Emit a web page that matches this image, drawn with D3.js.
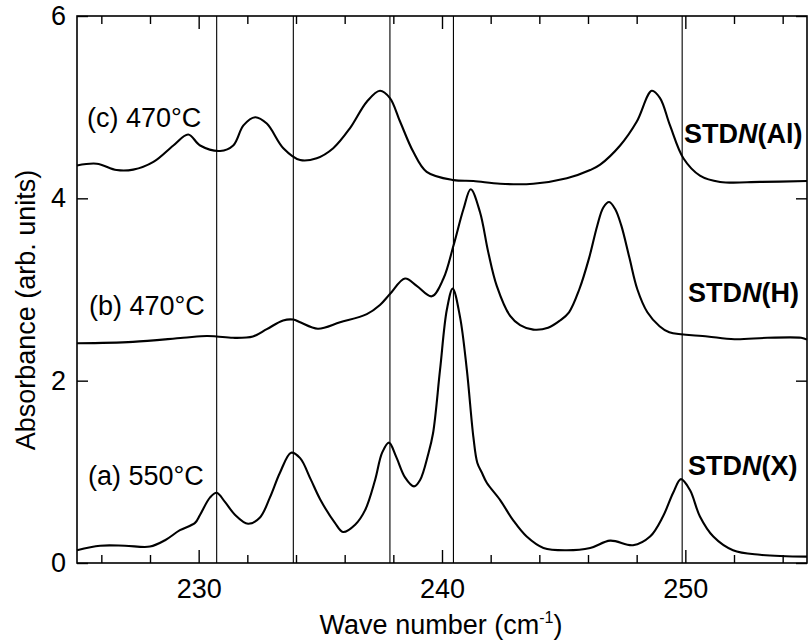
<!DOCTYPE html>
<html>
<head>
<meta charset="utf-8">
<script src="https://cdn.jsdelivr.net/npm/d3@7"></script>
<style>
  html, body { margin: 0; padding: 0; background: #fff; }
  svg { display: block; font-family: "Liberation Sans", Arial, Helvetica, sans-serif; }
</style>
</head>
<body>
<svg id="chart" width="808" height="642"></svg>
<script>
// ---- data ----
const xDomain = [225, 255];
const yDomain = [0, 6];
const xMajorTicks = [230, 240, 250];
const xMinorTicks = [226, 228, 232, 234, 236, 238, 242, 244, 246, 248, 252, 254];
const yMajorTicks = [0, 2, 4, 6];
const refLines = [230.74, 233.89, 237.86, 240.47, 249.87];

// (a) 550°C  STDN(X)
const seriesA = [
  [225.0, 0.14], [225.95, 0.19], [226.97, 0.19], [228.0, 0.18], [228.62, 0.25],
  [229.23, 0.36], [229.85, 0.44], [230.06, 0.53], [230.47, 0.72], [230.74, 0.77],
  [231.08, 0.67], [231.49, 0.53], [232.03, 0.43], [232.52, 0.50], [232.93, 0.72],
  [233.34, 0.99], [233.8, 1.21], [234.17, 1.15], [234.6, 0.92], [234.99, 0.70], [235.6, 0.44],
  [235.93, 0.34], [236.43, 0.42], [236.84, 0.58], [237.25, 0.91], [237.54, 1.21],
  [237.82, 1.32], [238.11, 1.17], [238.48, 0.94], [238.85, 0.84], [239.1, 0.91],
  [239.43, 1.19], [239.63, 1.42], [239.92, 2.12], [240.2, 2.78], [240.44, 3.01],
  [240.74, 2.70], [241.02, 2.12], [241.29, 1.38], [241.45, 1.10], [241.64, 0.99],
  [241.84, 0.88], [242.39, 0.69], [242.92, 0.47], [243.48, 0.29], [244.17, 0.165], [245.13, 0.14],
  [246.09, 0.165], [246.91, 0.245], [247.85, 0.195], [248.55, 0.29], [249.08, 0.51],
  [249.5, 0.77], [249.82, 0.92], [250.19, 0.80], [250.6, 0.51], [251.15, 0.29],
  [251.96, 0.14], [253.07, 0.09], [255.0, 0.07]
];

// (b) 470°C  STDN(H)
const seriesB = [
  [225.0, 2.41], [227.3, 2.425], [229.36, 2.47], [230.33, 2.49], [230.74, 2.485],
  [231.41, 2.47], [232.23, 2.485], [232.8, 2.565], [233.47, 2.66], [233.89, 2.67],
  [234.17, 2.64], [234.9, 2.57], [235.81, 2.64], [236.91, 2.73], [237.45, 2.83],
  [237.86, 2.95], [238.48, 3.12], [238.96, 3.04], [239.58, 2.925], [240.06, 3.12],
  [240.47, 3.48], [240.88, 3.88], [241.18, 4.10], [241.56, 3.85], [241.9, 3.41],
  [242.25, 3.04], [242.8, 2.71], [243.21, 2.61], [243.75, 2.56], [244.36, 2.58],
  [244.85, 2.66], [245.22, 2.75], [245.64, 3.0], [246.05, 3.35], [246.38, 3.70],
  [246.63, 3.90], [246.87, 3.96], [247.12, 3.88], [247.37, 3.70], [247.7, 3.35],
  [248.03, 3.0], [248.44, 2.75], [248.93, 2.60], [249.34, 2.53], [250.91, 2.485],
  [252.02, 2.455], [253.37, 2.47], [254.76, 2.47], [255.0, 2.45]
];

// (c) 470°C  STDN(Al)
const seriesC = [
  [225.0, 4.36], [225.81, 4.38], [226.63, 4.31], [227.31, 4.315], [228.14, 4.40],
  [228.96, 4.58], [229.57, 4.70], [230.06, 4.58], [230.88, 4.52], [231.42, 4.58],
  [231.84, 4.80], [232.32, 4.89], [232.8, 4.82], [233.48, 4.55], [234.17, 4.42],
  [234.85, 4.44], [235.53, 4.55], [236.22, 4.77], [236.91, 5.06], [237.45, 5.18],
  [237.86, 5.10], [238.28, 4.84], [238.82, 4.51], [239.37, 4.29], [240.47, 4.20],
  [241.29, 4.19], [242.39, 4.16], [243.75, 4.16], [245.13, 4.22], [246.09, 4.31],
  [246.5, 4.37], [247.32, 4.58], [248.0, 4.84], [248.62, 5.18], [248.96, 5.10],
  [249.37, 4.80], [249.92, 4.44], [250.6, 4.25], [251.43, 4.18], [253.07, 4.18],
  [255.0, 4.19]
];

const tempLabels = ["(a) 550°C", "(b) 470°C", "(c) 470°C"];
const sampleLabels = [["STD", "N", "(X)"], ["STD", "N", "(H)"], ["STD", "N", "(Al)"]];

// ---- drawing ----
const svg = d3.select("#chart");
const L = 77, R = 807, T = 16, B = 563;
const x = d3.scaleLinear().domain(xDomain).range([L, R]);
const y = d3.scaleLinear().domain(yDomain).range([B, T]);
const FS = 27;

// reference vertical lines
svg.append("g").selectAll("line").data(refLines).join("line")
  .attr("x1", d => x(d)).attr("x2", d => x(d))
  .attr("y1", T).attr("y2", B)
  .attr("stroke", "#000").attr("stroke-width", 1.1);

// curves
const line = d3.line().x(d => x(d[0])).y(d => y(d[1])).curve(d3.curveCatmullRom.alpha(0.5));
svg.append("g").selectAll("path").data([seriesA, seriesB, seriesC]).join("path")
  .attr("d", line).attr("fill", "none").attr("stroke", "#000")
  .attr("stroke-width", 2.1).attr("stroke-linejoin", "round");

// axes (ticks inward)
function styleAxis(g) {
  g.select(".domain").remove();
  g.selectAll(".tick line").attr("stroke", "#000").attr("stroke-width", 1.4);
  g.selectAll(".tick text").attr("font-size", FS).attr("fill", "#000")
    .attr("font-family", "Liberation Sans, Arial, sans-serif");
}
svg.append("g").attr("transform", `translate(0,${B})`)
  .call(d3.axisBottom(x).tickValues(xMinorTicks).tickSize(-8).tickFormat(""))
  .call(styleAxis);
svg.append("g").attr("transform", `translate(0,${B})`)
  .call(d3.axisBottom(x).tickValues(xMajorTicks).tickSize(-13).tickPadding(16).tickFormat(d3.format("d")))
  .call(styleAxis);
svg.append("g").attr("transform", `translate(0,${T})`)
  .call(d3.axisTop(x).tickValues(xMinorTicks).tickSize(-8).tickFormat(""))
  .call(styleAxis);
svg.append("g").attr("transform", `translate(0,${T})`)
  .call(d3.axisTop(x).tickValues(xMajorTicks).tickSize(-13).tickFormat(""))
  .call(styleAxis);
svg.append("g").attr("transform", `translate(${L},0)`)
  .call(d3.axisLeft(y).tickValues(yMajorTicks).tickSize(-11).tickPadding(11).tickFormat(d3.format("d")))
  .call(styleAxis);
svg.append("g").attr("transform", `translate(${R},0)`)
  .call(d3.axisRight(y).tickValues(yMajorTicks).tickSize(-11).tickFormat(""))
  .call(styleAxis);

// frame
svg.append("rect").attr("x", L).attr("y", T).attr("width", R - L).attr("height", B - T)
  .attr("fill", "none").attr("stroke", "#000").attr("stroke-width", 1.6);

// axis titles
const xt = svg.append("text").attr("x", 441).attr("y", 634).attr("text-anchor", "middle")
  .attr("font-size", FS).attr("fill", "#000");
xt.append("tspan").text("Wave number (cm");
xt.append("tspan").attr("font-size", 16).attr("dy", -11).text("-1");
xt.append("tspan").attr("dy", 11).text(")");

svg.append("text").attr("transform", "translate(35,310) rotate(-90)")
  .attr("text-anchor", "middle").attr("font-size", FS).attr("fill", "#000")
  .text("Absorbance (arb. units)");

// temperature labels
const tempPos = [[88, 485], [89, 315], [87, 127]];
svg.append("g").selectAll("text").data(tempLabels).join("text")
  .attr("x", (d, i) => tempPos[i][0]).attr("y", (d, i) => tempPos[i][1])
  .attr("font-size", FS).attr("fill", "#000").text(d => d);

// sample labels
const samplePos = [[688, 475], [688, 302], [684, 143]];
const sl = svg.append("g").selectAll("text").data(sampleLabels).join("text")
  .attr("x", (d, i) => samplePos[i][0]).attr("y", (d, i) => samplePos[i][1])
  .attr("font-size", FS).attr("font-weight", "bold").attr("fill", "#000");
sl.each(function(d) {
  const t = d3.select(this);
  t.append("tspan").text(d[0]);
  t.append("tspan").attr("font-style", "italic").text(d[1]);
  t.append("tspan").text(d[2]);
});
</script>
</body>
</html>
